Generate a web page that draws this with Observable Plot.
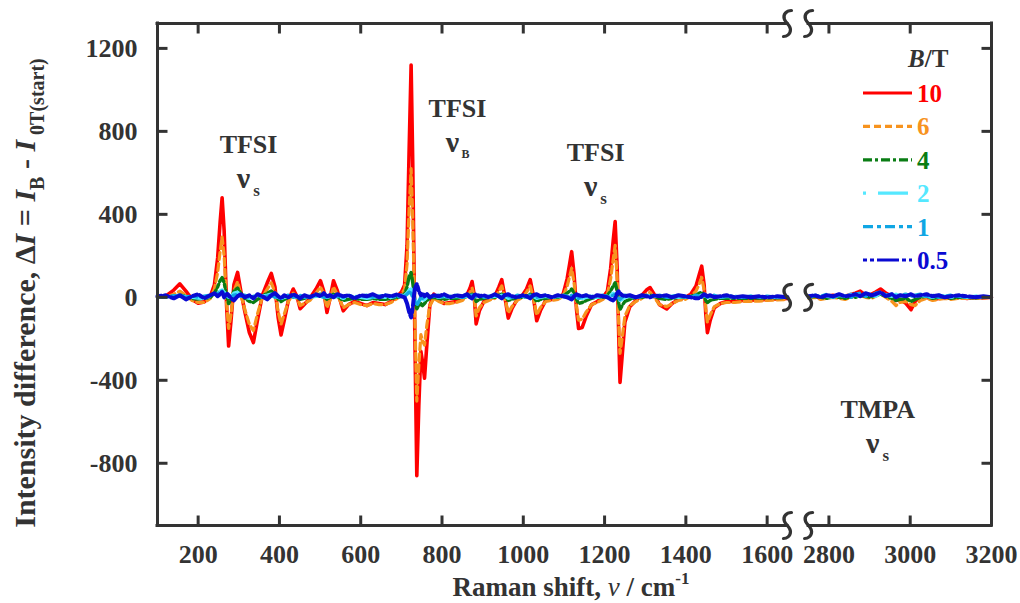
<!DOCTYPE html>
<html><head><meta charset="utf-8">
<script src="https://cdn.jsdelivr.net/npm/d3@7"></script>
<script src="https://cdn.jsdelivr.net/npm/@observablehq/plot@0.6"></script>
<style>body{margin:0;background:#fff}#chart{width:1020px;height:603px}</style>
</head><body><div id="chart"></div>
<script>
// ---- data ----
const fieldLabels = ["10","6","4","2","1","0.5"];
const wnLow = [100,120,140,155,170,185,200,215,230,240,
248,254,259,264,270,275,281,288,297,305,
315,326,336,346,358,370,380,389,397,404,
412,422,434,443,451,461,475,490,501,509,
517,525,533,542,557,570,585,600,615,630,
645,660,675,690,700,708,714,719,724,728,
733,738,743,748,752,757,763,770,780,792,
805,820,835,850,862,869,874,879,884,892,
903,915,930,940,947,954,963,972,985,998,
1008,1017,1024,1033,1042,1055,1070,1085,1098,1108,
1114,1119,1125,1131,1136,1145,1155,1168,1182,1196,
1207,1215,1221,1226,1231,1235,1238,1243,1250,1262,
1277,1292,1303,1312,1322,1335,1353,1366,1382,1398,
1412,1425,1433,1439,1445,1449,1453,1460,1470,1485,
1500,1520,1540,1560,1580,1600,1625,1650];
const wnHigh = [2750,2765,2780,2795,2810,2825,2840,2855,2865,2877,2890,2905,2915,2927,2940,2955,2965,2975,2990,3002,3012,3025,3040,3055,3070,3085,3100,3120,3140,3160,3180,3200];

const b10Low = [0,5,35,65,30,-10,-28,-22,5,60,
190,360,480,320,-40,-235,-110,60,120,30,
-70,-170,-218,-110,10,70,115,50,-100,-181,
-110,-15,40,5,-55,-35,-5,40,80,30,
-73,0,80,35,-65,-35,-20,-30,-40,-25,
-30,-35,-20,5,25,60,250,700,1120,650,
-150,-860,-520,-260,-310,-390,-220,-40,15,-15,
-30,-25,-20,-10,15,45,76,15,-128,-65,
-20,-10,5,50,85,10,-100,-55,-10,10,
40,85,15,-113,-65,-15,-10,-5,15,90,
160,220,110,-60,-150,-145,-90,-35,-20,0,
30,140,270,365,140,-200,-410,-290,-120,-45,
-15,10,35,47,15,-35,-56,-30,-10,0,
15,55,110,150,60,-80,-170,-110,-50,-30,
-20,-20,-15,-15,-12,-10,-8,-5];
const b6Low = [0,0,15,30,10,-15,-25,-25,-5,40,
120,220,290,200,-30,-150,-80,30,75,15,
-60,-130,-160,-80,0,40,70,25,-70,-130,
-80,-20,20,-5,-40,-30,-15,20,50,15,
-50,-10,50,15,-50,-35,-25,-35,-40,-30,
-35,-35,-25,-5,15,40,160,420,620,380,
-80,-500,-330,-180,-210,-230,-130,-40,-5,-20,
-30,-30,-25,-15,5,25,45,5,-90,-50,
-25,-15,-5,30,55,0,-75,-45,-15,0,
25,55,5,-85,-50,-20,-15,-10,5,55,
100,140,70,-45,-110,-105,-70,-35,-25,-10,
15,90,180,250,90,-140,-270,-200,-90,-40,
-20,-5,15,25,0,-35,-45,-30,-15,-10,
5,30,65,95,35,-55,-120,-85,-45,-30,
-25,-25,-20,-20,-18,-15,-12,-10];
const b4Low = [0,2,5,10,5,-5,-8,-5,0,20,
50,80,95,70,10,-30,-10,30,45,20,
-5,-20,-25,-10,5,20,30,15,-10,-20,
-10,0,10,0,-10,-5,0,10,15,5,
-10,0,15,5,-15,-10,-5,-10,-10,-5,
-10,-10,-5,0,5,15,50,100,120,70,
-10,-55,-40,-30,-40,-30,-15,-5,0,-5,
-10,-5,-5,0,5,10,15,5,-20,-10,
-5,0,0,10,15,5,-15,-10,0,0,
5,15,5,-20,-10,-5,0,0,5,20,
30,40,20,-10,-30,-25,-15,-5,0,0,
10,30,55,70,30,-30,-60,-40,-20,-10,
0,0,5,10,5,-5,-10,-5,0,0,
5,10,20,25,10,-15,-25,-15,-10,-5,
-5,-5,-5,-5,-3,-3,-2,0];
const b2Low = [0,3,5,8,3,0,-3,-5,5,10,
20,30,35,25,10,0,5,20,25,10,
0,-5,-5,0,5,10,15,5,0,-5,
0,5,5,0,0,5,0,5,10,5,
0,5,5,5,-5,0,5,0,-5,0,
5,0,0,5,5,10,20,35,40,20,
-10,-30,-20,-10,-15,-10,0,5,5,0,
5,0,5,0,5,5,10,5,-5,0,
5,0,5,5,10,5,-5,0,5,0,
5,10,5,-5,0,5,0,5,0,5,
10,15,10,0,-5,-5,0,5,0,5,
5,10,20,25,10,-10,-15,-10,0,5,
0,5,5,10,5,0,0,5,0,5,
0,5,10,10,5,0,-5,0,5,0,
5,0,0,5,0,0,0,0];
const b1Low = [5,0,8,5,0,8,0,5,10,15,
20,25,30,15,5,10,0,10,15,5,
10,0,5,10,0,5,10,0,5,-5,
5,10,0,5,10,0,5,10,5,0,
5,10,0,5,0,10,0,5,10,0,
5,10,5,0,10,5,15,25,20,0,
-20,-40,-20,0,-5,5,10,0,5,10,
0,5,10,0,5,10,5,0,5,10,
0,5,10,5,0,10,5,0,10,5,
0,10,5,0,5,10,0,5,10,5,
0,10,5,0,-5,5,10,0,5,10,
0,5,10,15,5,-5,-10,0,10,5,
0,5,10,0,5,10,0,5,10,0,
5,10,5,0,10,5,0,5,10,0,
5,5,0,5,0,5,0,0];
const b05Low = [5,10,-5,10,-10,5,15,-5,10,20,
5,15,25,0,20,10,-5,-15,5,15,
0,10,-5,15,5,-10,10,20,5,-5,
10,0,15,5,-5,10,0,15,5,20,
5,10,0,15,5,10,-5,10,5,15,
0,10,5,15,5,0,-30,-70,-97,-50,
40,65,30,10,20,5,15,0,10,5,
15,0,10,5,15,0,-5,10,15,5,
10,0,15,5,-5,10,15,5,0,10,
5,-5,10,15,5,10,0,10,5,0,
-5,-10,5,15,10,5,10,0,10,5,
0,-10,-15,-5,20,30,20,10,5,10,
0,10,5,0,10,5,10,0,10,5,
0,-5,-5,5,15,10,5,10,0,5,
10,0,5,0,5,0,5,0];

const b10High = [0,5,-5,5,10,0,5,15,20,30,10,15,25,40,20,5,-15,-10,-30,-60,-20,5,0,-10,-5,0,-5,0,-5,0,-3,0];
const b6High = [-5,0,-10,-5,0,-5,-10,0,5,10,0,-5,5,15,0,-20,-40,-25,-20,-35,-40,-15,-5,-15,-10,-5,-10,-5,-5,-5,-3,0];
const b4High = [0,5,0,-5,5,0,-5,5,0,10,5,0,10,15,5,-5,-15,-10,-5,-20,-10,0,5,-5,0,5,-5,0,0,-3,0,0];
const b2High = [5,0,10,5,0,10,5,15,10,5,15,10,5,20,10,5,15,5,10,0,5,10,5,0,10,5,0,5,0,5,0,0];
const b1High = [0,10,5,15,0,10,5,0,15,20,5,10,20,25,10,15,5,10,15,5,10,15,5,10,0,5,10,5,0,5,0,0];
const b05High = [5,10,0,10,5,15,5,10,15,5,20,10,15,25,5,15,0,10,5,15,5,10,15,5,10,0,5,10,5,0,5,0];

const xTickLabels = [200,400,600,800,1000,1200,1400,1600,2800,3000,3200];
const yTickLabels = [-800,-400,0,400,800,1200];
const annotations = [
  {name:"TFSI", sub:"s", wn:324, v:735},
  {name:"TFSI", sub:"B", wn:838, v:910},
  {name:"TFSI", sub:"s", wn:1178, v:697},
  {name:"TMPA", sub:"s", wn:2920, v:-540}
];

// ---- broken axis mapping ----
const LEFT_END = 1650, RIGHT_START = 2750, GAP = 52;
const SHIFT = RIGHT_START - LEFT_END - GAP; // 1048
const toU = w => w <= LEFT_END + 1 ? w : w - SHIFT;
const fromU = u => u > LEFT_END + 1 ? u + SHIFT : u;
const X0 = 100, X1 = 3200, Y0 = -1100, Y1 = 1320;

const series = [
  {B:"10",  color:"#ff0000", dash:null,            w:3.6, low:b10Low, high:b10High},
  {B:"6",   color:"#f7931e", dash:"7,4",           w:3.2, low:b6Low,  high:b6High},
  {B:"4",   color:"#0a7d14", dash:"9,3,3,3",       w:3.4, low:b4Low,  high:b4High},
  {B:"2",   color:"#55e8ff", dash:"3,12,30,4",     w:3.4, low:b2Low,  high:b2High},
  {B:"1",   color:"#10a6e4", dash:"10,4,4,4",      w:3.4, low:b1Low,  high:b1High},
  {B:"0.5", color:"#0a0ad2", dash:"4,3,4,3,22,3",  w:4.0, low:b05Low, high:b05High}
];
const rowsOf = s => wnLow.map((w,i)=>({u:toU(w), v:s.low[i], seg:"L"}))
  .concat(wnHigh.map((w,i)=>({u:toU(w), v:s.high[i], seg:"H"})));

// custom symbols
const tickLen = 10;
const mk = (dx,dy) => ({draw(c){c.moveTo(0,0); c.lineTo(dx*tickLen, dy*tickLen);}});
const tickUp = mk(0,-1), tickDown = mk(0,1), tickRight = mk(1,0), tickLeft = mk(-1,0);
const squiggle = {draw(c){
  c.moveTo(4,-13);
  c.bezierCurveTo(-1,-13,-5,-9,-3,-4);
  c.bezierCurveTo(-1,0,3,2,3,6);
  c.bezierCurveTo(3,11,-1,13,-4,13);
}};

const ink = "#333";
const xTicksU = xTickLabels.map(toU);
const frameSegs = [{a:toU(X0), b:toU(LEFT_END)}, {a:toU(RIGHT_START), b:toU(X1)}];
const breaks = [];
[LEFT_END, RIGHT_START].forEach(w => [Y0, 0, Y1].forEach(y => breaks.push({u:toU(w), v:y})));

const plot = Plot.plot({
  width:1020, height:603,
  marginLeft:157, marginRight:29, marginTop:23, marginBottom:78,
  x:{domain:[toU(X0), toU(X1)], axis:null},
  y:{domain:[Y0, Y1], axis:null},
  style:{fontFamily:"'Liberation Serif', serif", fontWeight:"bold", fontSize:"26px", color:ink, background:"#fff", overflow:"visible"},
  marks:[
    ...series.map(s => Plot.line(rowsOf(s), {x:"u", y:"v", z:"seg", stroke:s.color, strokeWidth:s.w,
        strokeDasharray:s.dash || undefined, strokeLinejoin:"round"})),
    // frame
    Plot.ruleY(frameSegs, {y:Y0, x1:"a", x2:"b", stroke:ink, strokeWidth:3, strokeLinecap:"square"}),
    Plot.ruleY(frameSegs, {y:Y1, x1:"a", x2:"b", stroke:ink, strokeWidth:3, strokeLinecap:"square"}),
    Plot.ruleX([toU(X0), toU(X1)], {x:d=>d, y1:Y0, y2:Y1, stroke:ink, strokeWidth:3, strokeLinecap:"square"}),
    // inward ticks
    Plot.dot(xTicksU, {x:d=>d, y:Y0, symbol:tickUp, fill:"none", stroke:ink, strokeWidth:3}),
    Plot.dot(xTicksU, {x:d=>d, y:Y1, symbol:tickDown, fill:"none", stroke:ink, strokeWidth:3}),
    Plot.dot(yTickLabels, {y:d=>d, x:toU(X0), symbol:tickRight, fill:"none", stroke:ink, strokeWidth:3}),
    Plot.dot(yTickLabels, {y:d=>d, x:toU(X1), symbol:tickLeft, fill:"none", stroke:ink, strokeWidth:3}),
    // axis break marks
    Plot.dot(breaks, {x:"u", y:"v", symbol:squiggle, fill:"none", stroke:ink, strokeWidth:3.2, strokeLinecap:"round"}),
    // tick labels
    Plot.axisX(xTicksU, {anchor:"bottom", tickSize:0, tickPadding:19, label:null,
      tickFormat:u => String(Math.round(fromU(u))), fontSize:26, fontWeight:"bold"}),
    Plot.axisY(yTickLabels, {anchor:"left", tickSize:0, tickPadding:20, label:null,
      tickFormat:d => String(d), fontSize:26, fontWeight:"bold"}),
    // annotations
    Plot.text(annotations, {x:d=>toU(d.wn), y:"v", text:"name", fontSize:26, fontWeight:"bold", fill:ink}),
    Plot.text(annotations, {x:d=>toU(d.wn), y:"v", text:()=>"ν", dx:-5, dy:34, fontSize:30, fontWeight:"bold", fill:ink}),
    Plot.text(annotations, {x:d=>toU(d.wn), y:"v", text:"sub", dx:8, dy:46, fontSize:d=>d.sub==="B"?12:17, fontWeight:"bold", fill:ink})
  ]
});
document.getElementById("chart").appendChild(plot);

const svg = d3.select(plot.tagName === "svg" ? plot : plot.querySelector("svg"));
const font = "'Liberation Serif', serif";

// x axis title
const xt = svg.append("text").attr("x", 571).attr("y", 596).attr("text-anchor","middle")
  .attr("font-family", font).attr("font-weight","bold").attr("font-size", 27).attr("fill", ink);
xt.append("tspan").text("Raman shift, ");
xt.append("tspan").attr("font-style","italic").attr("font-weight","normal").text("ν");
xt.append("tspan").text(" / cm");
xt.append("tspan").attr("font-size",17).attr("dy",-12).text("-1");

// y axis title
const yt = svg.append("text").attr("transform","translate(35,293) rotate(-90)").attr("text-anchor","middle")
  .attr("font-family", font).attr("font-weight","bold").attr("font-size", 30).attr("fill", ink);
yt.append("tspan").text("Intensity difference, Δ");
yt.append("tspan").attr("font-style","italic").text("I");
yt.append("tspan").text(" = ");
yt.append("tspan").attr("font-style","italic").text("I");
yt.append("tspan").attr("font-size",20).attr("dy",9).text("B");
yt.append("tspan").attr("dy",-9).text(" - ");
yt.append("tspan").attr("font-style","italic").text("I");
yt.append("tspan").attr("font-size",20).attr("dy",9).text(" 0T(start)");

// legend
const lg = svg.append("g").attr("font-family", font).attr("font-weight","bold").attr("font-size", 25).attr("text-anchor","start");
const lt = lg.append("text").attr("x", 908).attr("y", 67).attr("fill", ink);
lt.append("tspan").attr("font-style","italic").text("B");
lt.append("tspan").text("/T");
series.forEach((s, i) => {
  const cy = 93 + i * 33.4;
  lg.append("line").attr("x1", 863).attr("x2", 912).attr("y1", cy).attr("y2", cy)
    .attr("stroke", s.color).attr("stroke-width", 3.2).attr("stroke-dasharray", s.dash || null);
  lg.append("text").attr("x", 917).attr("y", cy + 9).attr("fill", s.color).text(fieldLabels[i]);
});
</script>
</body></html>
